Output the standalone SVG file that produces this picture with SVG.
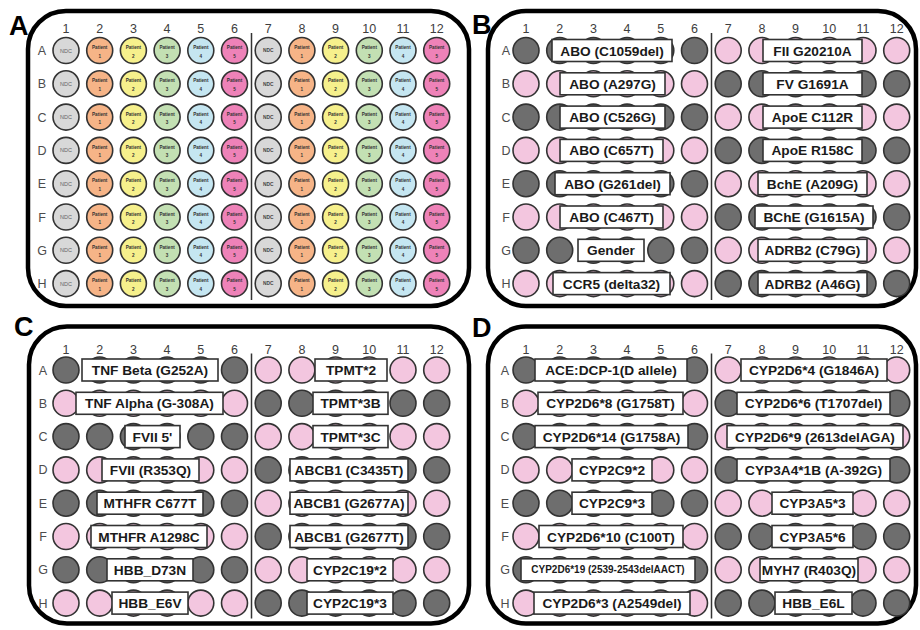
<svg xmlns="http://www.w3.org/2000/svg" xmlns:xlink="http://www.w3.org/1999/xlink" width="920" height="630" viewBox="0 0 920 630">
<style>
.frame{fill:none;stroke:#000;stroke-width:4.5}
.pl{font-family:'Liberation Sans',Arial,sans-serif;font-weight:bold;font-size:27px;fill:#000}
.num{font-family:'Liberation Sans',Arial,sans-serif;font-size:12.5px;fill:#3c3c3c;text-anchor:middle;opacity:0.99}
.rl{font-family:'Liberation Sans',Arial,sans-serif;font-size:12.5px;fill:#4a4a4a;text-anchor:middle;opacity:0.99}
.div{stroke:#333;stroke-width:1.5}
circle{stroke:#333;stroke-width:1.6}
.g{fill:#6e6e6e}.p{fill:#f3c6df}
.n{fill:#d8d8d8}.o{fill:#f6b487}.y{fill:#f6f08c}.gr{fill:#c3e0b3}.b{fill:#c5e6f1}.m{fill:#ee82b8}
.lb{fill:#fff;stroke:#333;stroke-width:1.6}
.lt{font-family:'Liberation Sans',Arial,sans-serif;font-weight:bold;font-size:13.7px;fill:#1a1a1a;text-anchor:middle}
.sm{font-size:10px}
.tn{font-family:'Liberation Sans',Arial,sans-serif;font-size:5.5px;fill:#666;text-anchor:middle}
.tnb{font-family:'Liberation Sans',Arial,sans-serif;font-weight:bold;font-size:4.8px;fill:#444;text-anchor:middle}
.tp{font-family:'Liberation Sans',Arial,sans-serif;font-weight:bold;font-size:4.6px;fill:#333;text-anchor:middle}
</style>
<defs>
<g id="cols" class="num">
<text x="66">1</text><text x="99.7">2</text><text x="133.4">3</text><text x="167.1">4</text><text x="200.8">5</text><text x="234.5">6</text><text x="268.2">7</text><text x="301.9">8</text><text x="335.6">9</text><text x="369.3">10</text><text x="403">11</text><text x="436.7">12</text>
</g>
<g id="rows" class="rl">
<text y="55">A</text><text y="88.3">B</text><text y="121.6">C</text><text y="154.9">D</text><text y="188.2">E</text><text y="221.5">F</text><text y="254.8">G</text><text y="288.1">H</text>
</g>
<g id="wN"><circle r="13" class="n"/><text class="tn" y="2">NDC</text></g>
<g id="wNb"><circle r="13" class="n"/><text class="tnb" y="1.8">NDC</text></g>
<g id="w1"><circle r="13" class="o"/><text class="tp" y="-1.5">Patient</text><text class="tp" y="7">1</text></g>
<g id="w2"><circle r="13" class="y"/><text class="tp" y="-1.5">Patient</text><text class="tp" y="7">2</text></g>
<g id="w3"><circle r="13" class="gr"/><text class="tp" y="-1.5">Patient</text><text class="tp" y="7">3</text></g>
<g id="w4"><circle r="13" class="b"/><text class="tp" y="-1.5">Patient</text><text class="tp" y="7">4</text></g>
<g id="w5"><circle r="13" class="m"/><text class="tp" y="-1.5">Patient</text><text class="tp" y="7">5</text></g>
<g id="arow">
<use xlink:href="#wN" x="66"/><use xlink:href="#w1" x="99.7"/><use xlink:href="#w2" x="133.4"/><use xlink:href="#w3" x="167.1"/><use xlink:href="#w4" x="200.8"/><use xlink:href="#w5" x="234.5"/>
<use xlink:href="#wNb" x="268.2"/><use xlink:href="#w1" x="301.9"/><use xlink:href="#w2" x="335.6"/><use xlink:href="#w3" x="369.3"/><use xlink:href="#w4" x="403"/><use xlink:href="#w5" x="436.7"/>
</g>
<g id="gp">
<circle cx="66" r="13" class="g"/><circle cx="99.7" r="13" class="g"/><circle cx="133.4" r="13" class="g"/><circle cx="167.1" r="13" class="g"/><circle cx="200.8" r="13" class="g"/><circle cx="234.5" r="13" class="g"/>
<circle cx="268.2" r="13" class="p"/><circle cx="301.9" r="13" class="p"/><circle cx="335.6" r="13" class="p"/><circle cx="369.3" r="13" class="p"/><circle cx="403" r="13" class="p"/><circle cx="436.7" r="13" class="p"/>
</g>
<g id="pg">
<circle cx="66" r="13" class="p"/><circle cx="99.7" r="13" class="p"/><circle cx="133.4" r="13" class="p"/><circle cx="167.1" r="13" class="p"/><circle cx="200.8" r="13" class="p"/><circle cx="234.5" r="13" class="p"/>
<circle cx="268.2" r="13" class="g"/><circle cx="301.9" r="13" class="g"/><circle cx="335.6" r="13" class="g"/><circle cx="369.3" r="13" class="g"/><circle cx="403" r="13" class="g"/><circle cx="436.7" r="13" class="g"/>
</g>
</defs>

<g id="panel-A">
<rect class="frame" x="28" y="11" width="441" height="295" rx="38"/>
<text class="pl" x="9" y="35">A</text>
<use xlink:href="#cols" y="33"/>
<use xlink:href="#rows" x="42"/>
<line class="div" x1="251.5" y1="33" x2="251.5" y2="300"/>
<use xlink:href="#arow" y="50.5"/><use xlink:href="#arow" y="83.8"/><use xlink:href="#arow" y="117.1"/><use xlink:href="#arow" y="150.4"/>
<use xlink:href="#arow" y="183.7"/><use xlink:href="#arow" y="217"/><use xlink:href="#arow" y="250.3"/><use xlink:href="#arow" y="283.6"/>
</g>

<g id="panel-B" transform="translate(460,0)">
<rect class="frame" x="28" y="11" width="428" height="295" rx="38"/>
<text class="pl" x="12" y="34">B</text>
<use xlink:href="#cols" y="33"/>
<use xlink:href="#rows" x="46"/>
<line class="div" x1="251.5" y1="33" x2="251.5" y2="300"/>
<g id="B-A" transform="translate(0,50.5)"><use xlink:href="#gp"/><rect class="lb" x="92" y="-11" width="120" height="22"/><text class="lt" x="152" y="5">ABO (C1059del)</text><rect class="lb" x="303" y="-11" width="99" height="22"/><text class="lt" x="352.5" y="5">FII G20210A</text></g>
<g id="B-B" transform="translate(0,83.8)"><use xlink:href="#pg"/><rect class="lb" x="100" y="-11" width="105" height="22"/><text class="lt" x="152.5" y="5">ABO (A297G)</text><rect class="lb" x="303" y="-11" width="99" height="22"/><text class="lt" x="352.5" y="5">FV G1691A</text></g>
<g id="B-C" transform="translate(0,117.1)"><use xlink:href="#gp"/><rect class="lb" x="100" y="-11" width="105" height="22"/><text class="lt" x="152.5" y="5">ABO (C526G)</text><rect class="lb" x="303" y="-11" width="99" height="22"/><text class="lt" x="352.5" y="5">ApoE C112R</text></g>
<g id="B-D" transform="translate(0,150.4)"><use xlink:href="#pg"/><rect class="lb" x="100" y="-11" width="103" height="22"/><text class="lt" x="151.5" y="5">ABO (C657T)</text><rect class="lb" x="303" y="-11" width="99" height="22"/><text class="lt" x="352.5" y="5">ApoE R158C</text></g>
<g id="B-E" transform="translate(0,183.7)"><use xlink:href="#gp"/><rect class="lb" x="95" y="-11" width="115" height="22"/><text class="lt" x="152.5" y="5">ABO (G261del)</text><rect class="lb" x="298" y="-11" width="109" height="22"/><text class="lt" x="352.5" y="5">BchE (A209G)</text></g>
<g id="B-F" transform="translate(0,217)"><use xlink:href="#pg"/><rect class="lb" x="100" y="-11" width="103" height="22"/><text class="lt" x="151.5" y="5">ABO (C467T)</text><rect class="lb" x="295" y="-11" width="118" height="22"/><text class="lt" x="354" y="5">BChE (G1615A)</text></g>
<g id="B-G" transform="translate(0,250.3)"><use xlink:href="#gp"/><rect class="lb" x="118" y="-11" width="66" height="22"/><text class="lt" x="151" y="5">Gender</text><rect class="lb" x="298" y="-11" width="109" height="22"/><text class="lt" x="352.5" y="5">ADRB2 (C79G)</text></g>
<g id="B-H" transform="translate(0,283.6)"><use xlink:href="#pg"/><rect class="lb" x="93" y="-11" width="117" height="22"/><text class="lt" x="151.5" y="5">CCR5 (delta32)</text><rect class="lb" x="298" y="-11" width="109" height="22"/><text class="lt" x="352.5" y="5">ADRB2 (A46G)</text></g>
</g>

<g id="panel-C" transform="translate(0,319.5)">
<rect class="frame" x="29" y="7" width="440" height="297" rx="38"/>
<text class="pl" x="14" y="16.5">C</text>
<use xlink:href="#cols" y="34.5"/>
<use xlink:href="#rows" x="43"/>
<line class="div" x1="251.5" y1="34" x2="251.5" y2="299"/>
<g id="C-A" transform="translate(0,50.5)"><use xlink:href="#gp"/><rect class="lb" x="82" y="-11" width="136" height="22"/><text class="lt" x="150" y="5">TNF Beta (G252A)</text><rect class="lb" x="315" y="-11" width="72" height="22"/><text class="lt" x="351" y="5">TPMT*2</text></g>
<g id="C-B" transform="translate(0,83.8)"><use xlink:href="#pg"/><rect class="lb" x="76" y="-11" width="147" height="22"/><text class="lt" x="149.5" y="5">TNF Alpha (G-308A)</text><rect class="lb" x="313" y="-11" width="75" height="22"/><text class="lt" x="350.5" y="5">TPMT*3B</text></g>
<g id="C-C" transform="translate(0,117.1)"><use xlink:href="#gp"/><rect class="lb" x="125" y="-11" width="55" height="22"/><text class="lt" x="152.5" y="5">FVII 5'</text><rect class="lb" x="313" y="-11" width="75" height="22"/><text class="lt" x="350.5" y="5">TPMT*3C</text></g>
<g id="C-D" transform="translate(0,150.4)"><use xlink:href="#pg"/><rect class="lb" x="102" y="-11" width="97" height="22"/><text class="lt" x="150.5" y="5">FVII (R353Q)</text><rect class="lb" x="290" y="-11" width="118" height="22"/><text class="lt" x="349" y="5">ABCB1 (C3435T)</text></g>
<g id="C-E" transform="translate(0,183.7)"><use xlink:href="#gp"/><rect class="lb" x="97" y="-11" width="106" height="22"/><text class="lt" x="150" y="5">MTHFR C677T</text><rect class="lb" x="290" y="-11" width="118" height="22"/><text class="lt" x="349" y="5">ABCB1 (G2677A)</text></g>
<g id="C-F" transform="translate(0,217)"><use xlink:href="#pg"/><rect class="lb" x="91" y="-11" width="116" height="22"/><text class="lt" x="149" y="5">MTHFR A1298C</text><rect class="lb" x="290" y="-11" width="118" height="22"/><text class="lt" x="349" y="5">ABCB1 (G2677T)</text></g>
<g id="C-G" transform="translate(0,250.3)"><use xlink:href="#gp"/><rect class="lb" x="107" y="-11" width="86" height="22"/><text class="lt" x="150" y="5">HBB_D73N</text><rect class="lb" x="307" y="-11" width="86" height="22"/><text class="lt" x="350" y="5">CYP2C19*2</text></g>
<g id="C-H" transform="translate(0,283.6)"><use xlink:href="#pg"/><rect class="lb" x="112" y="-11" width="76" height="22"/><text class="lt" x="150" y="5">HBB_E6V</text><rect class="lb" x="307" y="-11" width="86" height="22"/><text class="lt" x="350" y="5">CYP2C19*3</text></g>
</g>

<g id="panel-D" transform="translate(460,319.5)">
<rect class="frame" x="28" y="7" width="428" height="297" rx="38"/>
<text class="pl" x="12" y="17.5">D</text>
<use xlink:href="#cols" y="34.5"/>
<use xlink:href="#rows" x="45"/>
<line class="div" x1="251.5" y1="34" x2="251.5" y2="299"/>
<g id="D-A" transform="translate(0,50.5)"><use xlink:href="#gp"/><rect class="lb" x="75" y="-11" width="152" height="22"/><text class="lt" x="151" y="5">ACE:DCP-1(D allele)</text><rect class="lb" x="281" y="-11" width="146" height="22"/><text class="lt" x="354" y="5">CYP2D6*4 (G1846A)</text></g>
<g id="D-B" transform="translate(0,83.8)"><use xlink:href="#pg"/><rect class="lb" x="78" y="-11" width="145" height="22"/><text class="lt" x="150.5" y="5">CYP2D6*8 (G1758T)</text><rect class="lb" x="277" y="-11" width="153" height="22"/><text class="lt" x="353.5" y="5">CYP2D6*6 (T1707del)</text></g>
<g id="D-C" transform="translate(0,117.1)"><use xlink:href="#gp"/><rect class="lb" x="75" y="-11" width="153" height="22"/><text class="lt" x="151.5" y="5">CYP2D6*14 (G1758A)</text><rect class="lb" x="267" y="-11" width="176" height="22"/><text class="lt" x="355" y="5">CYP2D6*9 (2613delAGA)</text></g>
<g id="D-D" transform="translate(0,150.4)"><use xlink:href="#pg"/><rect class="lb" x="112" y="-11" width="80" height="22"/><text class="lt" x="152" y="5">CYP2C9*2</text><rect class="lb" x="277" y="-11" width="153" height="22"/><text class="lt" x="353.5" y="5">CYP3A4*1B (A-392G)</text></g>
<g id="D-E" transform="translate(0,183.7)"><use xlink:href="#gp"/><rect class="lb" x="112" y="-11" width="80" height="22"/><text class="lt" x="152" y="5">CYP2C9*3</text><rect class="lb" x="312" y="-11" width="81" height="22"/><text class="lt" x="352.5" y="5">CYP3A5*3</text></g>
<g id="D-F" transform="translate(0,217)"><use xlink:href="#pg"/><rect class="lb" x="79" y="-11" width="144" height="22"/><text class="lt" x="151" y="5">CYP2D6*10 (C100T)</text><rect class="lb" x="312" y="-11" width="81" height="22"/><text class="lt" x="352.5" y="5">CYP3A5*6</text></g>
<g id="D-G" transform="translate(0,250.3)"><use xlink:href="#gp"/><rect class="lb" x="61" y="-11" width="174" height="22"/><text class="lt sm" x="148" y="3.5">CYP2D6*19 (2539-2543delAACT)</text><rect class="lb" x="300" y="-11" width="98" height="22"/><text class="lt" x="349" y="5">MYH7 (R403Q)</text></g>
<g id="D-H" transform="translate(0,283.6)"><use xlink:href="#pg"/><rect class="lb" x="74" y="-11" width="156" height="22"/><text class="lt" x="152" y="5">CYP2D6*3 (A2549del)</text><rect class="lb" x="315" y="-11" width="77" height="22"/><text class="lt" x="353.5" y="5">HBB_E6L</text></g>
</g>
</svg>
